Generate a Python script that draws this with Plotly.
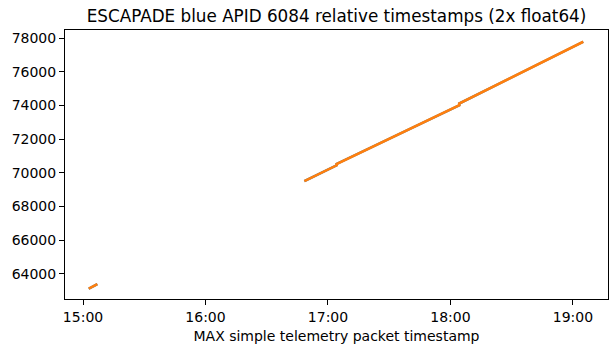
import plotly.graph_objects as go

DAY = "2025-11-20 "

# MAX packet timestamps (HH:MM:SS) with gaps marked by None
times = ["15:02:48", "15:07:00", None,
         "16:48:25", "17:04:15",
         "17:04:12", "18:04:20",
         "18:04:16", "19:05:03"]
# relative timestamps, float64 column 1 and column 2 (overlap)
rel_ts_1 = [63110, 63385, None,
            69500, 70440,
            70520, 74010,
            74110, 77780]
rel_ts_2 = [63110, 63385, None,
            69500, 70440,
            70520, 74010,
            74110, 77780]

x_ticks = ["15:00", "16:00", "17:00", "18:00", "19:00"]
y_ticks = [64000, 66000, 68000, 70000, 72000, 74000, 76000, 78000]

xs = [DAY + t if t is not None else None for t in times]

FONT = "DejaVu Sans"
fig = go.Figure()
fig.add_trace(go.Scatter(x=xs, y=rel_ts_1, mode="lines",
                         line=dict(color="#1f77b4", width=2.4), connectgaps=False,
                         showlegend=False))
fig.add_trace(go.Scatter(x=xs, y=rel_ts_2, mode="lines",
                         line=dict(color="#ff7f0e", width=2.6), connectgaps=False,
                         showlegend=False))

axis_common = dict(showline=True, mirror=True, linecolor="black", linewidth=1,
                   ticks="outside", ticklen=5, tickwidth=1, tickcolor="black",
                   showgrid=False, zeroline=False,
                   tickfont=dict(family=FONT, size=14, color="black"))

fig.update_layout(
    width=616, height=353,
    margin=dict(l=65, r=8, t=30, b=54),
    paper_bgcolor="white", plot_bgcolor="white",
    title=dict(text="ESCAPADE blue APID 6084 relative timestamps (2x float64)",
               x=0.5, xref="paper", xanchor="center",
               y=1 - 16 / 353, yref="container", yanchor="middle",
               font=dict(family=FONT, size=16.8, color="black")),
    xaxis=dict(**axis_common,
               type="date",
               range=[DAY + "14:51:10", DAY + "19:17:10"],
               tickvals=[DAY + t for t in x_ticks], ticktext=x_ticks,
               title=dict(text="MAX simple telemetry packet timestamp",
                          font=dict(family=FONT, size=14, color="black"),
                          standoff=7)),
    yaxis=dict(**axis_common,
               range=[62500, 78480],
               tickvals=y_ticks, ticktext=[str(v) for v in y_ticks]),
)

fig.write_html("out.html")
